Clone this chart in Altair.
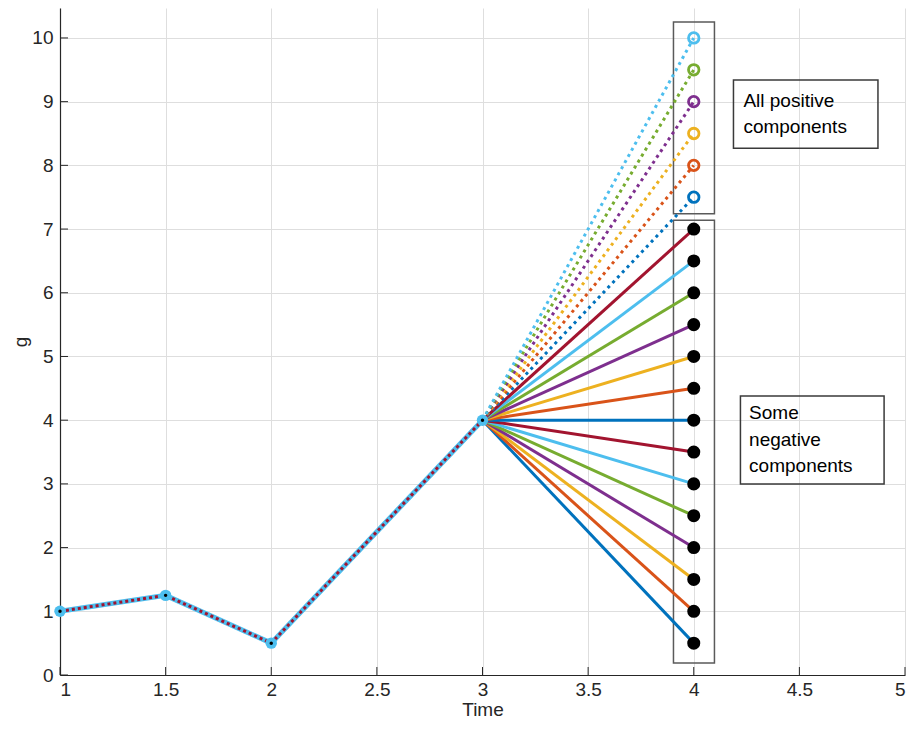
import altair as alt
import pandas as pd

# ---------------- data ----------------
path_x = [1, 1.5, 2, 3]
path_y = [1, 1.25, 0.5, 4]
hub_x = 3
hub_y = 4
end_x = 4
solid_end_y = [0.5, 1.0, 1.5, 2.0, 2.5, 3.0, 3.5, 4.0, 4.5, 5.0, 5.5, 6.0, 6.5, 7.0]
solid_colors = ["#0072BD", "#D95319", "#EDB120", "#7E2F8E", "#77AC30", "#4DBEEE", "#A2142F",
                "#0072BD", "#D95319", "#EDB120", "#7E2F8E", "#77AC30", "#4DBEEE", "#A2142F"]
dotted_end_y = [7.5, 8.0, 8.5, 9.0, 9.5, 10.0]
dotted_colors = ["#0072BD", "#D95319", "#EDB120", "#7E2F8E", "#77AC30", "#4DBEEE"]
x_ticks = [1, 1.5, 2, 2.5, 3, 3.5, 4, 4.5, 5]
y_ticks = [0, 1, 2, 3, 4, 5, 6, 7, 8, 9, 10]

# annotation boxes (data coords): x, x2, y, y2
box_x1 = [3.904, 3.904, 4.188, 4.221]
box_x2 = [4.098, 4.098, 4.872, 4.901]
box_y1 = [7.24, 0.19, 8.27, 3.0]
box_y2 = [10.25, 7.14, 9.34, 4.38]
box_kind = ["marker", "marker", "text", "text"]

label_text = ["All positive", "components", "Some", "negative", "components"]
label_x = [4.235, 4.235, 4.262, 4.262, 4.262]
label_y = [9.01, 8.60, 4.11, 3.69, 3.28]

FONT = "Liberation Sans"
W, H = 845, 667

xs = alt.Scale(domain=[1, 5], nice=False, zero=False)
ys = alt.Scale(domain=[0, 10.47], nice=False, zero=False)

# ---------------- frames ----------------
path_df = pd.DataFrame({"x": path_x, "y": path_y})

solid_rows = []
for i, (yy, c) in enumerate(zip(solid_end_y, solid_colors)):
    sid = f"s{i}"
    solid_rows.append({"sid": sid, "x": hub_x, "y": hub_y, "c": c})
    solid_rows.append({"sid": sid, "x": end_x, "y": yy, "c": c})
solid_df = pd.DataFrame(solid_rows)

dot_rows = []
for i, (yy, c) in enumerate(zip(dotted_end_y, dotted_colors)):
    sid = f"d{i}"
    dot_rows.append({"sid": sid, "x": hub_x, "y": hub_y, "c": c})
    dot_rows.append({"sid": sid, "x": end_x, "y": yy, "c": c})
dot_df = pd.DataFrame(dot_rows)

solid_end_df = pd.DataFrame({"x": [end_x] * len(solid_end_y), "y": solid_end_y})
dot_end_df = pd.DataFrame({"x": [end_x] * len(dotted_end_y), "y": dotted_end_y, "c": dotted_colors})

box_df = pd.DataFrame({"x": box_x1, "x2": box_x2, "y": box_y1, "y2": box_y2, "kind": box_kind})
lab_df = pd.DataFrame({"x": label_x, "y": label_y, "t": label_text})

xtick_df = pd.DataFrame({"x": x_ticks})
ytick_df = pd.DataFrame({"y": y_ticks})

# ---------------- layers ----------------
X = alt.X("x:Q", scale=xs, axis=alt.Axis(values=x_ticks, format="~g", title="Time",
                                          grid=True, ticks=False, tickSize=0, labelPadding=5,
                                          titlePadding=1))
Y = alt.Y("y:Q", scale=ys, axis=alt.Axis(values=y_ticks, format="~g", title="g",
                                          grid=True, ticks=False, tickSize=0, labelPadding=7,
                                          titlePadding=1))

base_axes = alt.Chart(path_df).mark_point(opacity=0).encode(x=X, y=Y)

xticks = alt.Chart(xtick_df).mark_rule(color="#262626", strokeWidth=1).encode(
    x=alt.X("x:Q", scale=xs), y=alt.value(H), y2=alt.value(H - 8))
yticks = alt.Chart(ytick_df).mark_rule(color="#262626", strokeWidth=1).encode(
    y=alt.Y("y:Q", scale=ys), x=alt.value(0), x2=alt.value(8))

boxes = alt.Chart(box_df).mark_rect(fill=None, filled=False).encode(
    x=alt.X("x:Q", scale=xs), x2="x2", y=alt.Y("y:Q", scale=ys), y2="y2",
    stroke=alt.Stroke("kind:N", scale=alt.Scale(domain=["marker", "text"], range=["#5a5a5a", "#3a3a3a"]), legend=None),
    strokeWidth=alt.value(1.5),
)

solid = alt.Chart(solid_df).mark_line(strokeWidth=3).encode(
    x=alt.X("x:Q", scale=xs), y=alt.Y("y:Q", scale=ys), detail="sid:N",
    color=alt.Color("c:N", scale=None),
)

dotted = alt.Chart(dot_df).mark_line(strokeWidth=3, strokeDash=[3, 4]).encode(
    x=alt.X("x:Q", scale=xs), y=alt.Y("y:Q", scale=ys), detail="sid:N",
    color=alt.Color("c:N", scale=None),
)

path_cyan = alt.Chart(path_df).mark_line(strokeWidth=5, color="#4DBEEE").encode(
    x=alt.X("x:Q", scale=xs), y=alt.Y("y:Q", scale=ys))
path_red = alt.Chart(path_df).mark_line(strokeWidth=3, color="#A2142F", strokeDash=[3, 3]).encode(
    x=alt.X("x:Q", scale=xs), y=alt.Y("y:Q", scale=ys))

path_pts = alt.Chart(path_df).mark_circle(size=130, color="#4DBEEE", opacity=1).encode(
    x=alt.X("x:Q", scale=xs), y=alt.Y("y:Q", scale=ys))
path_ctr = alt.Chart(path_df).mark_circle(size=12, color="#000000", opacity=1).encode(
    x=alt.X("x:Q", scale=xs), y=alt.Y("y:Q", scale=ys))

end_black = alt.Chart(solid_end_df).mark_circle(size=170, color="#000000", opacity=1).encode(
    x=alt.X("x:Q", scale=xs), y=alt.Y("y:Q", scale=ys))

end_open = alt.Chart(dot_end_df).mark_point(size=110, strokeWidth=2.8, filled=False, opacity=1).encode(
    x=alt.X("x:Q", scale=xs), y=alt.Y("y:Q", scale=ys),
    color=alt.Color("c:N", scale=None))

labels = alt.Chart(lab_df).mark_text(align="left", baseline="middle", font=FONT, fontSize=19,
                                     color="#000000").encode(
    x=alt.X("x:Q", scale=xs), y=alt.Y("y:Q", scale=ys), text="t:N")

chart = alt.layer(
    base_axes, xticks, yticks, boxes, solid, dotted, path_cyan, path_red,
    path_pts, path_ctr, end_black, end_open, labels
).properties(
    width=W, height=H,
    autosize=alt.AutoSizeParams(type="none"),
    padding={"left": 52, "top": 0, "right": 3, "bottom": 45},
).configure_view(stroke=None).configure_axis(
    labelFont=FONT, titleFont=FONT, labelFontSize=19, titleFontSize=19,
    labelColor="#262626", titleColor="#262626", titleFontWeight="normal",
    domainColor="#262626", domainWidth=1.2, gridColor="#dedede", gridWidth=1,
)

chart.save("out.html", embed_options={"renderer": "svg", "actions": False})
